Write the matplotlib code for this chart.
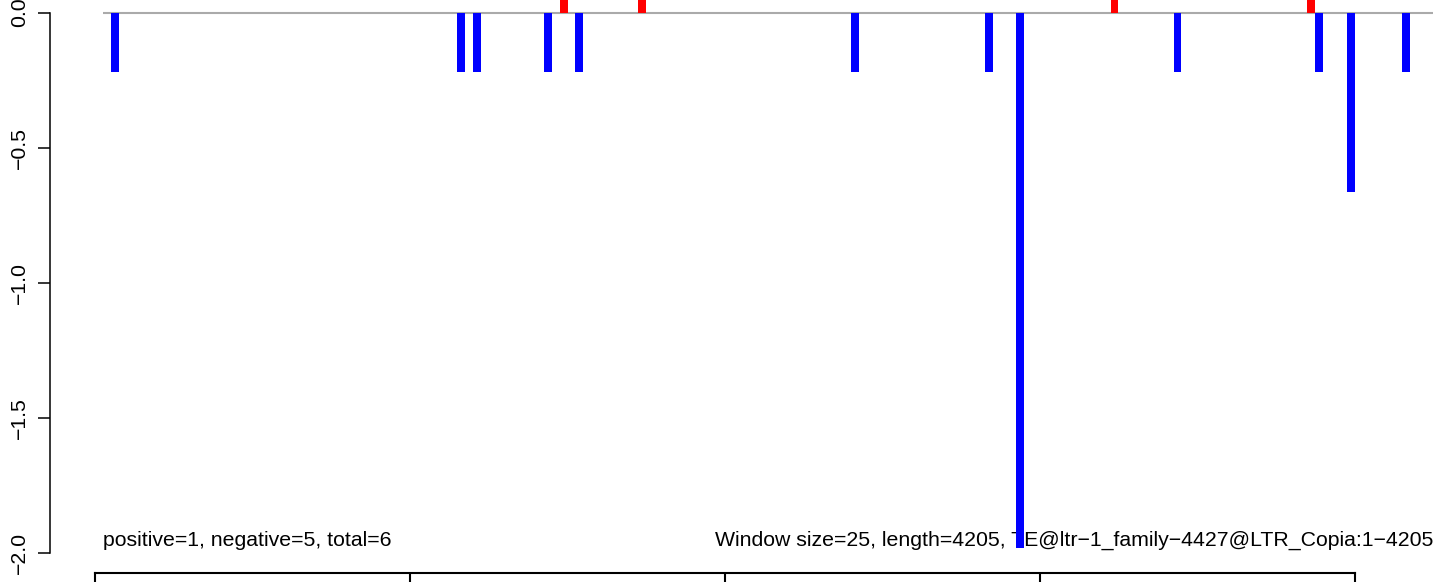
import numpy as np
from matplotlib import pyplot as plt

plt.rcParams['font.family'] = ['Liberation Sans', 'DejaVu Sans']

# window starts (bp) and scores, window size 25
win = 25
seq_len = 4205
n_win = 169
neg_pos = [25, 1125, 1175, 1400, 1500, 2375, 2800, 2900, 3400, 3850, 3950, 4125]
neg_val = [-0.22, -0.22, -0.22, -0.22, -0.22, -0.22, -0.22, -1.98, -0.22, -0.22, -0.664, -0.22]
pos_pos = [1450, 1700, 3200, 3825]
pos_val = [0.22, 0.22, 0.22, 0.22]
y_ticks = [0.0, -0.5, -1.0, -1.5, -2.0]
y_labels = ["0.0", "\u22120.5", "\u22121.0", "\u22121.5", "\u22122.0"]
stats_txt = "positive=1, negative=5, total=6"
info_txt = "Window size=25, length=4205, TE@ltr\u22121_family\u22124427@LTR_Copia:1\u22124205"
n_seg = 4

W, H = 1444, 582
fig = plt.figure(figsize=(W / 100, H / 100), dpi=100)

# main panel (runs past the right edge of the picture, like the crop)
px_per_bp = 0.3148
x0 = -169
x1 = x0 + (1487 - 50) / px_per_bp
px_per_unit = 270.25
ytop = 12.5 / px_per_unit
ybot = -(H - 12.5) / px_per_unit
ax = fig.add_axes([50 / W, 0, (1487 - 50) / W, 1])
ax.set_xlim(x0, x1)
ax.set_ylim(ybot, ytop)

ax.bar(neg_pos, neg_val, width=win, align='edge', color='#0000FF', zorder=3)
ax.bar(pos_pos, pos_val, width=win, align='edge', color='#FF0000', zorder=3)
ax.hlines(0, 0, n_win * win, color='#AAAAAA', lw=1.5, zorder=2)

for s in ['top', 'right', 'bottom']:
    ax.spines[s].set_visible(False)
ax.spines['left'].set_bounds(-2, 0)
ax.spines['left'].set_linewidth(1.1)
ax.set_xticks([])
ax.set_yticks(y_ticks)
ax.set_yticklabels(y_labels, rotation=90, va='center', fontsize=15.3)
ax.tick_params(axis='y', length=9, width=1.1, pad=6)

ax.text(0, -1.955, stats_txt, fontsize=15.3, va='center', ha='left', zorder=1)
ax.text(n_win * win, -1.955, info_txt, fontsize=15.3, va='center', ha='right', zorder=1)

# bottom panel frame (cut off by the crop)
ax2 = fig.add_axes([95 / W, 0, (1355 - 95) / W, (H - 573) / H])
ax2.set_xlim(0, n_seg)
ax2.set_ylim(0, 1)
ax2.vlines(np.arange(1, n_seg), 0, 1, color='black', lw=1.5)
ax2.spines['bottom'].set_visible(False)
for s in ['top', 'left', 'right']:
    ax2.spines[s].set_linewidth(1.5)
ax2.set_xticks([])
ax2.set_yticks([])

fig.savefig("out.png", dpi=100)
